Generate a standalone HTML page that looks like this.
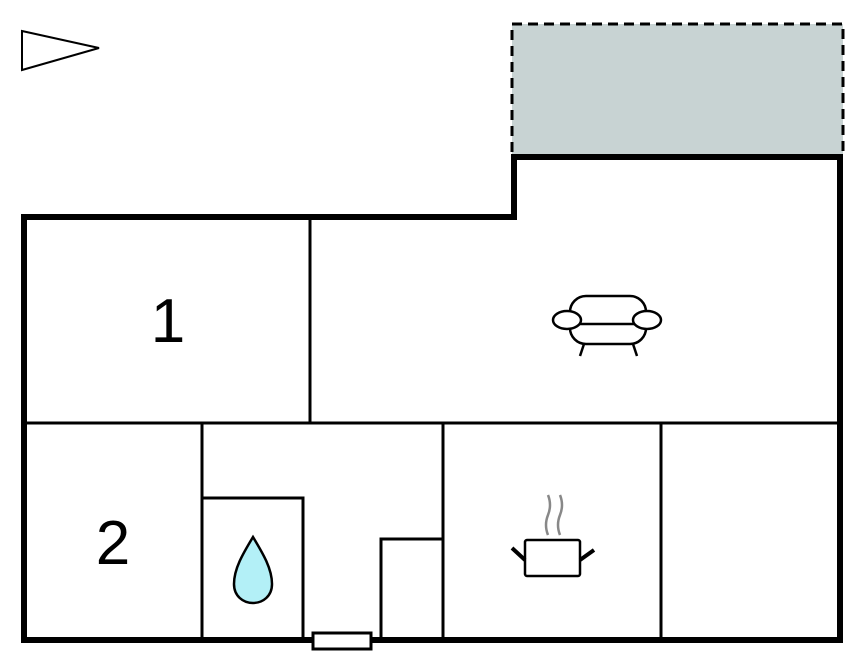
<!DOCTYPE html>
<html><head><style>html,body{margin:0;padding:0;background:#fff;}svg{display:block}</style></head>
<body>
<svg width="846" height="652" viewBox="0 0 846 652" xmlns="http://www.w3.org/2000/svg">
<rect x="512" y="24" width="331" height="133" fill="#c8d3d3" stroke="#000" stroke-width="3" stroke-dasharray="10,6"/>
<polygon points="22,31 99,48 22,70" fill="#fff" stroke="#000" stroke-width="2"/>
<g stroke="#000" fill="none">
<path d="M24,640 V217 H514 V157 H840 V640 Z" stroke-width="6"/>
<g stroke-width="3">
<line x1="310" y1="217" x2="310" y2="423"/>
<line x1="24" y1="423" x2="840" y2="423"/>
<line x1="202" y1="423" x2="202" y2="640"/>
<line x1="443" y1="423" x2="443" y2="640"/>
<line x1="661" y1="423" x2="661" y2="640"/>
<polyline points="202,498 303,498 303,640"/>
<polyline points="381,640 381,539 443,539"/>
</g>
</g>
<rect x="313" y="633" width="58" height="16" fill="#fff" stroke="#000" stroke-width="3"/>
<text x="168" y="342" font-family="Liberation Sans, sans-serif" font-size="62" text-anchor="middle">1</text>
<text x="113" y="564" font-family="Liberation Sans, sans-serif" font-size="62" text-anchor="middle">2</text>
<!-- sofa -->
<g stroke="#000" stroke-width="2.5" fill="#fff">
<rect x="570" y="296" width="76" height="48" rx="16"/>
<line x1="578" y1="324" x2="640" y2="324"/>
<ellipse cx="567" cy="320" rx="14" ry="9"/>
<ellipse cx="647" cy="320" rx="14" ry="9"/>
<line x1="584" y1="344" x2="580" y2="356"/>
<line x1="633" y1="344" x2="637" y2="356"/>
</g>
<!-- pot -->
<g fill="none">
<path d="M548,535 q-4,-10 0,-20 q4,-10 0,-20" stroke="#888" stroke-width="2.5"/>
<path d="M560,535 q-4,-10 0,-20 q4,-10 0,-20" stroke="#888" stroke-width="2.5"/>
<rect x="525" y="540" width="55" height="36" rx="2" stroke="#000" stroke-width="2.5" fill="#fff"/>
<line x1="512" y1="548" x2="525" y2="560" stroke="#000" stroke-width="4"/>
<line x1="594" y1="550" x2="580" y2="560" stroke="#000" stroke-width="4"/>
</g>
<!-- drop -->
<path d="M253,537 C262,552 272,568 272,584 C272,596 263,603 253,603 C243,603 234,596 234,584 C234,568 244,552 253,537 Z" fill="#b3f0f7" stroke="#000" stroke-width="2.5"/>
</svg>
</body></html>
